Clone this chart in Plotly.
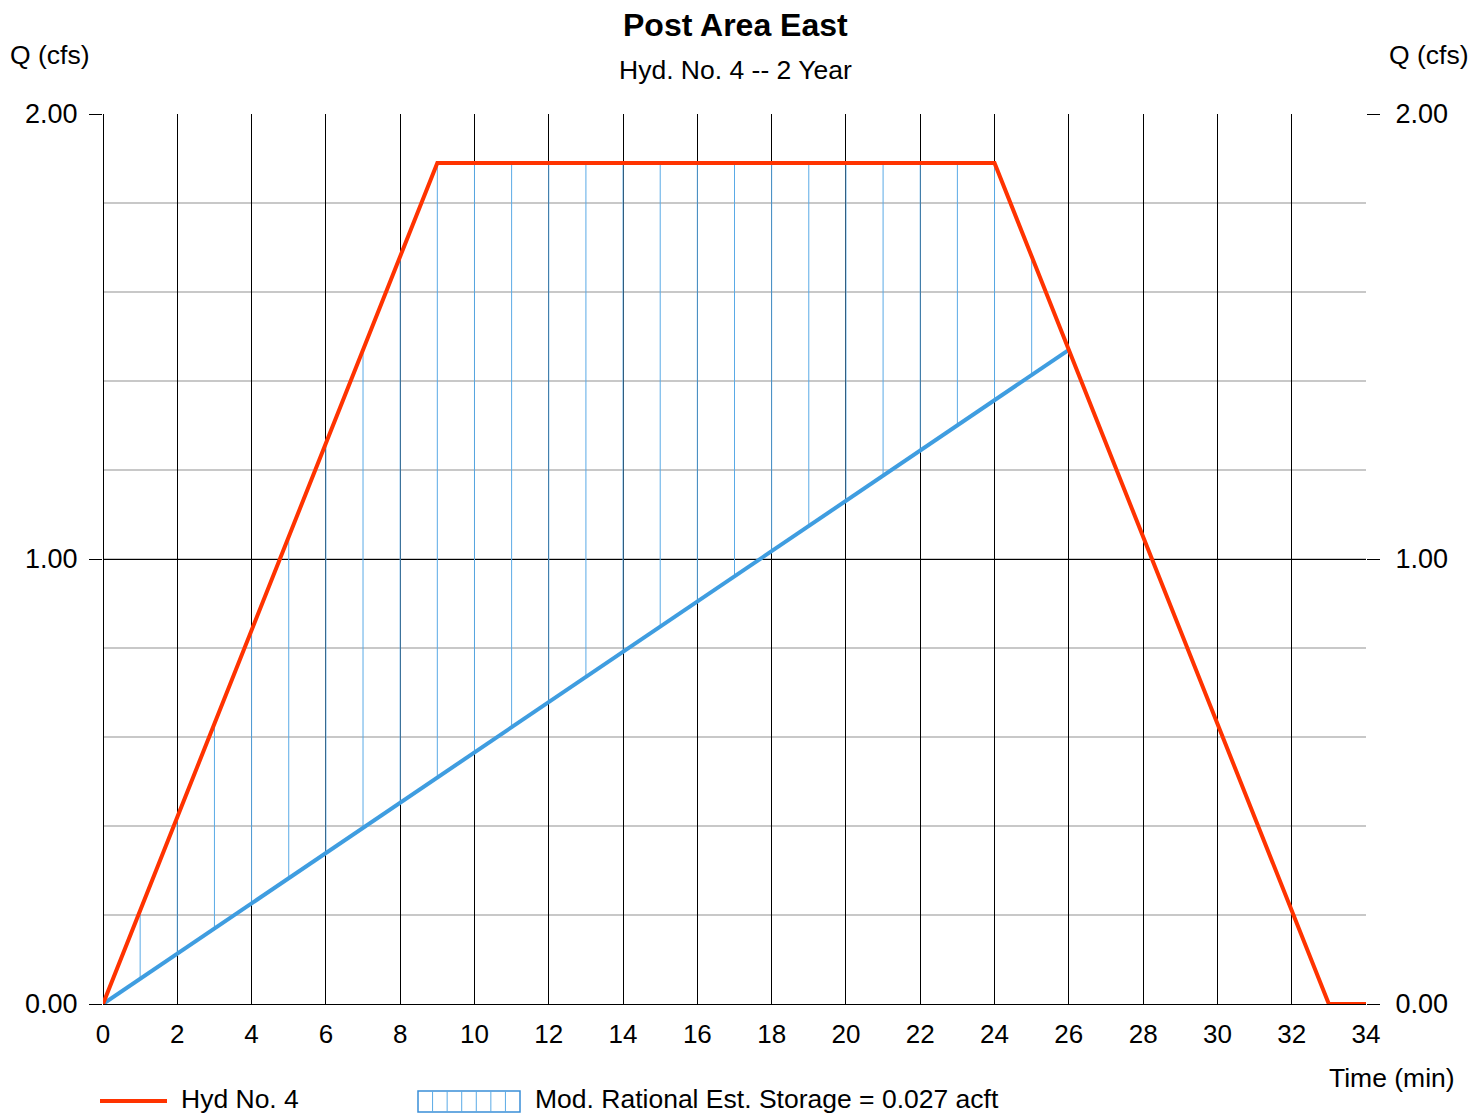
import numpy as np
import plotly.graph_objects as go

# ---- data ----
hyd_time = [0, 9, 24, 33, 34]           # min
hyd_q = [0.0, 1.89, 1.89, 0.0, 0.0]      # cfs
rel_time = [0, 26]                       # min
rel_q = [0.0, 1.47]                      # cfs
hatch_time = [1, 2, 3, 4, 5, 6, 7, 8, 9, 10, 11, 12, 13, 14, 15, 16, 17, 18, 19, 20, 21, 22, 23, 24, 25]
x_ticks = list(range(0, 35, 2))
y_ticks = [0.0, 1.0, 2.0]

title = "Post Area East"
subtitle = "Hyd. No. 4 -- 2 Year"
legend_hyd = "Hyd No. 4"
legend_storage = "Mod. Rational Est. Storage = 0.027 acft"

RED = "#FF3300"
BLUE = "#3F9DE0"
HATCH = "#5AAAE6"
FONT = "Arial, Liberation Sans, sans-serif"

# hatch segments between outflow line and inflow hydrograph
hx, hy = [], []
for t in hatch_time:
    lo = float(np.interp(t, rel_time, rel_q))
    hi = float(np.interp(t, hyd_time, hyd_q))
    hx += [t, t, None]
    hy += [lo, hi, None]

fig = go.Figure()
fig.add_trace(go.Scatter(x=hx, y=hy, mode="lines", line=dict(color=HATCH, width=1),
                         hoverinfo="skip", showlegend=False))
fig.add_trace(go.Scatter(x=rel_time, y=rel_q, mode="lines", line=dict(color=BLUE, width=4),
                         showlegend=False))
fig.add_trace(go.Scatter(x=hyd_time, y=hyd_q, mode="lines", line=dict(color=RED, width=4),
                         showlegend=False))
# invisible trace for right axis
fig.add_trace(go.Scatter(x=[0, 34], y=[0, 2], yaxis="y2", mode="markers",
                         marker=dict(opacity=0), hoverinfo="skip", showlegend=False))

OFF = 8  # page body margin
W, H = 1478 - OFF, 1114 - OFF
L, T = 103 - OFF, 114 - OFF
pw, ph = 1263, 890
R = W - L - pw
B = H - T - ph


def px(x):
    return (x - OFF - L) / pw


def py(y):
    return (T + ph - (y - OFF)) / ph


yaxis_common = dict(
    range=[0, 2], tickvals=y_ticks, ticktext=[f"{v:.2f}" for v in y_ticks],
    ticks="outside", ticklen=13, tickcolor="black", tickwidth=1,
    tickfont=dict(family=FONT, size=27, color="black"),
)

fig.update_layout(
    width=W, height=H,
    margin=dict(l=L, r=R, t=T, b=B, pad=0),
    plot_bgcolor="white", paper_bgcolor="white",
    showlegend=False,
    xaxis=dict(range=[0, 34], tickvals=x_ticks, showgrid=True, gridcolor="black", gridwidth=1,
               zeroline=True, zerolinecolor="black", zerolinewidth=1, showline=False,
               ticks="", ticklabelstandoff=12,
               tickfont=dict(family=FONT, size=26, color="black")),
    yaxis=dict(**yaxis_common, showgrid=True, gridcolor="black", gridwidth=1,
               zeroline=True, zerolinecolor="black", zerolinewidth=1, showline=False,
               ticklabelstandoff=6,
               minor=dict(dtick=0.2, showgrid=True, gridcolor="#c8c8c8", gridwidth=2, ticks="")),
    yaxis2=dict(**yaxis_common, overlaying="y", side="right", showgrid=False, zeroline=False,
                showline=False, ticklabelstandoff=10),
)

TXT = 26.5
ann = [
    dict(text=f"<b>{title}</b>", x=px(735), y=py(25), font=dict(size=32)),
    dict(text=subtitle, x=px(735), y=py(70), font=dict(size=TXT)),
    dict(text="Q (cfs)", x=px(9), y=py(55), xanchor="left", font=dict(size=TXT)),
    dict(text="Q (cfs)", x=px(1470), y=py(55), xanchor="right", font=dict(size=TXT)),
    dict(text="Time (min)", x=px(1456), y=py(1078), xanchor="right", font=dict(size=TXT)),
    dict(text=legend_hyd, x=px(180), y=py(1099), xanchor="left", font=dict(size=TXT)),
    dict(text=legend_storage, x=px(534), y=py(1099), xanchor="left", font=dict(size=TXT)),
]
for a in ann:
    a.setdefault("xanchor", "center")
    a["yanchor"] = "middle"
    a["xref"] = "paper"
    a["yref"] = "paper"
    a["showarrow"] = False
    a["borderpad"] = 0
    a["font"] = dict(family=FONT, color="black", size=a["font"]["size"])
    fig.add_annotation(**a)

# legend symbols
fig.add_shape(type="line", xref="paper", yref="paper", x0=px(100), x1=px(167),
              y0=py(1101), y1=py(1101), line=dict(color=RED, width=4))
bx0, bx1, by0, by1 = 418, 520, 1091, 1112
fig.add_shape(type="rect", xref="paper", yref="paper", x0=px(bx0), x1=px(bx1),
              y0=py(by1), y1=py(by0), line=dict(color="#3A8FD8", width=1.5))
ncell = 7
for i in range(1, ncell):
    xx = bx0 + (bx1 - bx0) * i / ncell
    fig.add_shape(type="line", xref="paper", yref="paper", x0=px(xx), x1=px(xx),
                  y0=py(by1), y1=py(by0), line=dict(color=HATCH, width=1))

fig.write_html("out.html")
